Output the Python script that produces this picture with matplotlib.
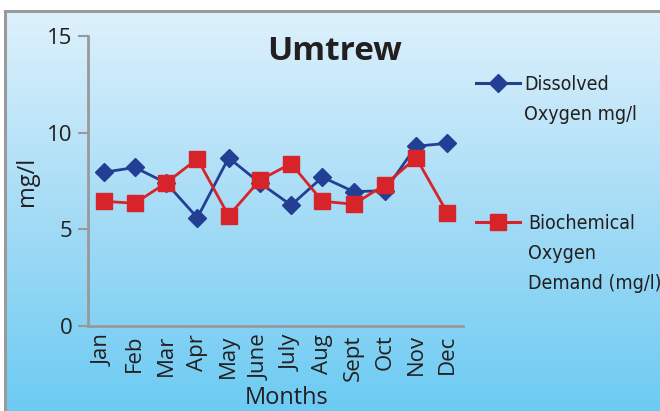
"""
Umtrew water quality: dissolved oxygen vs BOD by month.
"""

import matplotlib as mpl

mpl.use("Agg")

import matplotlib.pyplot as plt
import numpy as np
from matplotlib import font_manager
from matplotlib.colors import LinearSegmentedColormap
from matplotlib.patches import Rectangle
from matplotlib.transforms import ScaledTranslation


MONTHS = ["Jan", "Feb", "Mar", "Apr", "May", "June",
          "July", "Aug", "Sept", "Oct", "Nov", "Dec"]
DISSOLVED_OXYGEN = [7.95, 8.2, 7.4, 5.6, 8.7, 7.4, 6.25, 7.7, 6.95, 7.0, 9.3, 9.45]
BOD = [6.45, 6.35, 7.4, 8.65, 5.7, 7.55, 8.4, 6.45, 6.3, 7.3, 8.7, 5.85]
Y_TICKS = [0, 5, 10, 15]

BLUE = "#233f94"
RED = "#d7232a"
GREY = "#999999"
TEXT = "#231f20"

plt.rcParams["font.family"] = ["Open Sans", "DejaVu Sans"]


def narrow_font():
    # the legend uses a condensed face; pick whatever condensed face exists
    for fam in ("Liberation Sans Narrow", "DejaVu Sans Condensed"):
        try:
            font_manager.findfont(fam, fallback_to_default=False)
            return {"family": fam}
        except ValueError:
            pass
    path = font_manager.findfont(
        font_manager.FontProperties(family="DejaVu Sans", stretch="condensed"))
    if "Condensed" in path:
        return {"family": "DejaVu Sans", "stretch": "condensed"}
    return None


fig = plt.figure(figsize=(6.6, 4.11), dpi=100)

# gradient background with grey frame (cropped at right and bottom)
bg = fig.add_axes([0, 0, 1, 1], zorder=-10)
bg.set_xlim(0, 660)
bg.set_ylim(411, 0)
bg.axis("off")
cmap = LinearSegmentedColormap.from_list("sky", ["#def1fc", "#a6dcf6", "#6ccbf3"])
grad = np.linspace(0, 1, 256).reshape(-1, 1)
bg.imshow(grad, cmap=cmap, extent=[5, 660, 411, 11], aspect="auto")
bg.add_patch(Rectangle((0, 0), 660, 10, color="white"))
bg.add_patch(Rectangle((0, 0), 4, 411, color="white"))
bg.plot([5, 5], [411, 11], color="#9a9a9a", lw=2.2)
bg.plot([5, 660], [11, 11], color="#9a9a9a", lw=2.2)

ax = fig.add_axes([88 / 660, 1 - 326 / 411, 375 / 660, 290 / 411])
ax.patch.set_alpha(0)
x = np.arange(len(MONTHS))
ax.plot(x, DISSOLVED_OXYGEN, color=BLUE, lw=2, marker="D", ms=9,
        label="Dissolved\nOxygen mg/l", zorder=3)
ax.plot(x, BOD, color=RED, lw=2, marker="s", ms=11,
        label="Biochemical\nOxygen\nDemand (mg/l)", zorder=4)

ax.set_xlim(-0.5, len(MONTHS) - 0.5)
ax.set_ylim(0, 15)
ax.set_yticks(Y_TICKS)
ax.set_xticks(x)
ax.set_xticklabels(MONTHS, rotation=90, fontsize=16, color=TEXT)
ax.tick_params(axis="x", length=0, pad=6)
ax.tick_params(axis="y", length=7, width=1.5, color=GREY, labelsize=16,
               labelcolor=TEXT, pad=4)
for side in ("top", "right"):
    ax.spines[side].set_visible(False)
for side in ("left", "bottom"):
    ax.spines[side].set_color(GREY)
    ax.spines[side].set_linewidth(2)

ax.set_ylabel("mg/l", fontsize=17, color=TEXT, labelpad=6)
fig.text(287 / 660, 1 - 398 / 411, "Months", fontsize=17, color=TEXT,
         ha="center", va="center")
fig.text(335 / 660, 1 - 51 / 411, "Umtrew", fontsize=24, fontweight="bold",
         color=TEXT, ha="center", va="center")

# legend drawn by hand to match the stacked label layout
handles, labels = ax.get_legend_handles_labels()
nf = narrow_font()
legend_kw = dict(nf, fontsize=14) if nf else {"fontsize": 12}
lift = bg.transData + ScaledTranslation(0, 0.085, fig.dpi_scale_trans)
for (hx, hy), line in zip([(498, 83), (498, 222)], handles):
    bg.plot([hx - 22, hx + 22], [hy, hy], color=line.get_color(), lw=2.2)
    bg.plot(hx, hy, marker=line.get_marker(), ms=line.get_markersize(),
            color=line.get_color())
bg.text(524, 83, labels[0], color=TEXT, va="top", linespacing=1.75,
        transform=lift, **legend_kw)
bg.text(528, 222, labels[1], color=TEXT, va="top", linespacing=1.75,
        transform=lift, **legend_kw)

fig.savefig("out.png", dpi=100)
plt.close(fig)
